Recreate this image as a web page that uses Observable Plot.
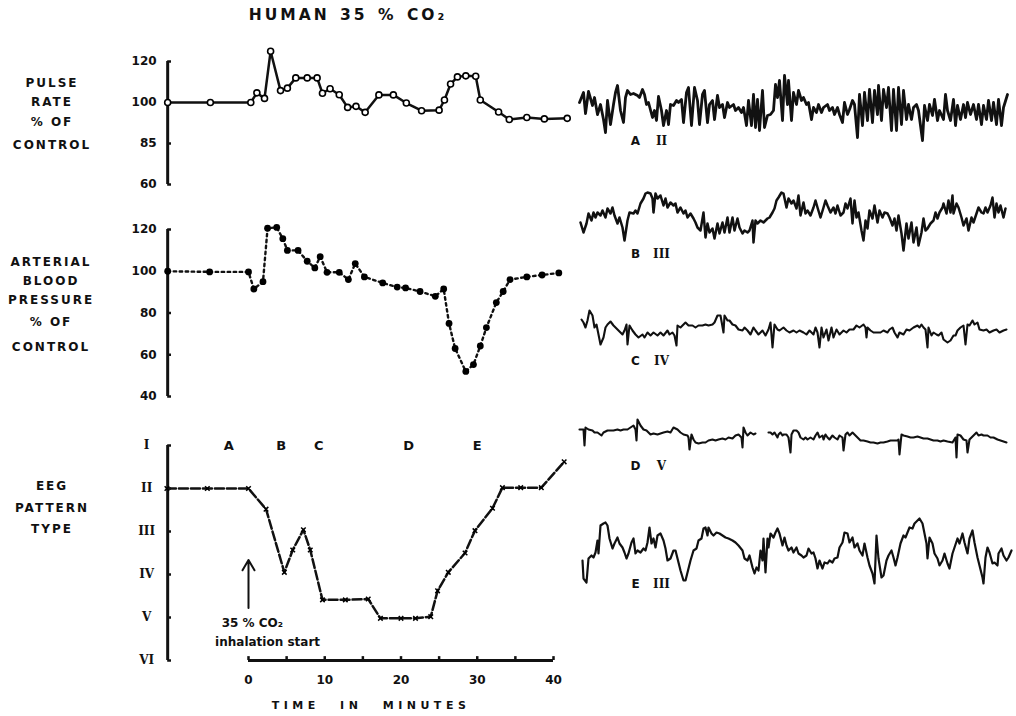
<!DOCTYPE html>
<html><head><meta charset="utf-8">
<script src="https://cdn.jsdelivr.net/npm/d3@7"></script>
<script src="https://cdn.jsdelivr.net/npm/@observablehq/plot@0.6"></script>
<style>
body{margin:0;background:#fff;}
#fig{position:relative;width:1016px;height:716px;overflow:hidden;background:#fff;font-family:"DejaVu Sans",sans-serif;color:#111;}
#fig svg{position:absolute;left:0;top:0;background:transparent!important;overflow:visible;}
.lbl{position:absolute;font-weight:bold;white-space:nowrap;transform:translate(-50%,-50%);}
</style></head><body><div id="fig"></div>
<script>
// ---------------- DATA ----------------
const pulseTime  = [-10.6, -5.0, 0.3, 1.1, 2.1, 2.9, 4.2, 5.1, 6.2, 7.7, 9.0, 9.7, 10.7, 11.9, 13.0, 14.1, 15.3, 17.1, 19.0, 20.7, 22.7, 25.0, 25.7, 26.5, 27.4, 28.5, 29.8, 30.4, 32.8, 34.2, 36.5, 38.8, 41.8];
const pulseValue = [100, 100, 100, 104.7, 102, 125, 105.8, 107, 112, 112, 112, 104.5, 106.7, 103.8, 98.2, 98.6, 96.4, 103.7, 103.7, 99.8, 97, 97.2, 101.2, 109, 112.5, 113, 112.8, 101.2, 96.5, 93.8, 94.5, 94, 94.2];
const pulseTicks = [120, 100, 85, 60];

const bpTime  = [-10.6, -5.1, 0, 0.7, 1.9, 2.5, 3.7, 4.5, 5.1, 6.5, 7.7, 8.7, 9.4, 10.3, 11.9, 13.1, 14.0, 15.2, 17.6, 19.5, 20.6, 22.5, 24.5, 25.6, 26.3, 27.1, 28.5, 29.5, 30.4, 31.2, 32.5, 33.4, 34.3, 36.5, 38.5, 40.7];
const bpValue = [100, 99.7, 99.7, 91.5, 95, 120.6, 121, 115.6, 110, 110, 104.8, 101.6, 107, 99.5, 99.5, 96, 103.7, 97.3, 94.4, 92.4, 92, 90.3, 88, 91.5, 75, 63, 52, 55.3, 64.2, 73, 85, 90.3, 96, 97.3, 98.2, 99.2];
const bpTicks = [120, 100, 80, 60, 40];

const eegTime  = [-10.7, -5.4, 0, 2.3, 4.7, 5.8, 7.2, 8.1, 9.7, 12.7, 15.7, 17.3, 20.0, 21.9, 23.9, 24.8, 26.2, 28.4, 29.7, 32.0, 33.3, 35.7, 38.4, 41.4];
const eegLevel = [2, 2, 2, 2.48, 3.95, 3.43, 2.96, 3.43, 4.59, 4.59, 4.57, 5.02, 5.02, 5.02, 4.98, 4.38, 3.95, 3.5, 2.98, 2.46, 1.98, 1.98, 1.98, 1.38];
const eegLevels = [1, 2, 3, 4, 5, 6];
const eegLevelNames = ["I", "II", "III", "IV", "V", "VI"];

const timeTicks = [0, 5, 10, 15, 20, 25, 30, 35, 40];
const timeLabels = [0, 10, 20, 30, 40];
const phaseNames = ["A", "B", "C", "D", "E"];
const phaseTimes = [-2.6, 4.3, 9.2, 21.0, 30.0];
const inhalationStart = 0;

// EEG sample traces: flat [time, amplitude, time, amplitude, ...]
const traceA = [9,5, 13,15, 15,-6, 18,16, 22,2, 24,10, 27,-7, 30,3, 33,-12, 35,-25, 37,7, 40,-17, 43,3, 45,15, 47,22, 50,-3, 53,-15, 55,10, 57,17, 60,13, 63,14, 67,12, 69,10, 72,18, 74,13, 76,3, 78,5, 82,-10, 84,-3, 86,-13, 88,11, 91,-3, 93,-18, 96,-3, 98,-17, 100,3, 103,2, 106,7, 108,5, 111,8, 113,-15, 116,15, 118,20, 121,-18, 124,20, 127,7, 129,-17, 132,13, 134,17, 137,-15, 139,3, 142,7, 144,-12, 147,12, 149,0, 152,3, 154,-10, 157,5, 159,0, 163,3, 165,-3, 168,0, 171,-5, 173,0, 176,-18, 178,7, 181,-18, 183,13, 185,-20, 187,8, 189,-23, 192,17, 194,-20, 197,-8, 200,-7, 203,-3, 205,23, 207,10, 209,27, 212,-13, 214,32, 217,3, 218,27, 221,-13, 223,15, 226,3, 228,17, 231,7, 233,10, 236,3, 238,5, 241,-12, 243,0, 246,-5, 248,3, 251,-5, 253,0, 257,3, 259,-3, 262,0, 264,-7, 267,0, 269,-7, 272,-15, 274,5, 277,-7, 279,-2, 282,7, 284,3, 287,-30, 289,13, 292,-18, 294,15, 297,-13, 299,18, 302,-15, 304,17, 307,-7, 308,22, 311,-13, 313,18, 316,0, 318,20, 321,-23, 323,18, 326,-23, 328,20, 331,-17, 333,17, 336,-12, 338,3, 341,-12, 343,0, 346,3, 348,-3, 352,-33, 354,2, 357,-13, 359,3, 362,-8, 364,8, 367,-13, 369,-3, 373,-12, 375,13, 377,-3, 380,-13, 383,8, 385,-18, 387,2, 390,-12, 393,3, 395,-10, 397,5, 400,-7, 403,3, 406,-12, 408,3, 411,-17, 413,2, 416,-12, 418,7, 421,-13, 423,5, 426,-17, 428,8, 431,-18, 433,0, 437,13];
const traceB = [10,-2, 13,-12, 16,-3, 18,7, 21,0, 23,8, 25,3, 27,8, 30,5, 32,10, 35,3, 37,12, 40,7, 42,13, 44,5, 47,-3, 49,3, 52,-7, 54,-20, 57,0, 59,8, 63,7, 65,10, 67,7, 70,17, 73,22, 75,27, 77,28, 80,27, 82,22, 83,8, 85,27, 87,22, 90,25, 93,15, 95,22, 97,13, 100,18, 103,15, 105,17, 107,8, 110,13, 113,7, 115,10, 117,3, 120,7, 123,2, 125,-2, 127,-7, 130,-10, 133,8, 135,-17, 137,-3, 139,-12, 142,-8, 144,-18, 147,-3, 149,-13, 152,-2, 154,-12, 157,3, 159,-12, 162,3, 164,-10, 167,2, 169,-7, 172,-13, 174,-10, 177,-12, 179,-10, 182,0, 183,-22, 185,0, 187,-3, 190,0, 193,-2, 197,2, 199,3, 202,8, 204,12, 206,20, 208,23, 211,28, 213,27, 216,13, 218,22, 221,17, 223,20, 226,12, 228,25, 230,5, 233,18, 235,7, 237,10, 240,5, 243,13, 245,20, 247,13, 250,3, 253,13, 255,20, 257,15, 260,8, 263,13, 265,7, 267,15, 270,5, 273,8, 275,17, 277,12, 280,22, 282,-3, 284,20, 286,3, 288,8, 291,-10, 293,-20, 295,0, 297,-8, 299,10, 302,2, 304,15, 307,-2, 309,10, 312,3, 314,8, 317,7, 319,3, 322,-5, 324,2, 326,-10, 328,5, 331,-13, 333,-30, 336,-3, 338,-18, 341,-2, 343,-22, 346,-7, 348,-25, 351,-12, 353,2, 355,-10, 357,-8, 360,-3, 363,0, 365,8, 367,2, 369,8, 372,13, 373,17, 376,7, 378,20, 380,8, 382,25, 383,7, 386,17, 388,13, 391,3, 393,-5, 396,2, 398,-10, 401,3, 403,-2, 406,7, 408,13, 411,8, 413,7, 415,13, 417,8, 420,15, 422,23, 424,3, 426,17, 428,8, 430,15, 433,3, 435,12];
const traceC = [11,8, 13,5, 15,0, 17,7, 19,17, 22,12, 24,0, 26,3, 28,-7, 30,-17, 33,-10, 35,0, 37,3, 40,6, 43,2, 45,0, 48,-3, 52,-7, 54,-3, 56,3, 57,-17, 59,2, 62,-3, 65,-7, 68,-10, 72,-7, 74,-10, 77,-5, 80,-8, 83,-5, 87,-8, 90,-5, 93,-8, 97,-3, 99,-7, 102,-5, 104,-8, 106,-18, 107,2, 110,0, 113,3, 115,5, 118,2, 122,2, 125,0, 128,2, 132,2, 135,3, 138,2, 142,3, 144,5, 147,12, 150,12, 153,-5, 154,12, 157,7, 159,7, 162,3, 165,2, 168,-2, 172,-3, 174,0, 177,-3, 180,-7, 183,0, 185,-3, 188,-7, 192,-3, 195,-8, 198,-2, 200,5, 202,-20, 204,3, 207,-2, 209,-3, 213,0, 216,-3, 219,-5, 223,-3, 226,-5, 229,-3, 233,-5, 236,-7, 239,-3, 243,-7, 245,0, 247,-5, 249,-20, 251,0, 253,-10, 256,-2, 258,-13, 261,0, 263,-10, 266,-2, 269,-7, 273,-3, 276,-5, 279,-2, 283,-2, 286,2, 289,0, 293,3, 295,0, 296,-10, 297,0, 300,-3, 303,-5, 307,-5, 310,-5, 313,-3, 317,-5, 319,-2, 322,0, 324,-5, 327,-10, 329,-5, 333,-7, 336,-2, 339,-3, 343,0, 347,2, 349,0, 351,3, 353,0, 355,-2, 357,-20, 358,0, 361,-8, 363,-5, 366,-7, 368,-8, 371,-5, 373,-12, 377,-15, 380,-13, 383,-8, 385,-8, 387,-3, 390,0, 393,2, 395,-17, 397,3, 399,2, 402,7, 404,3, 407,5, 409,-2, 413,-3, 416,-2, 419,-5, 423,-3, 426,-2, 429,-5, 433,-3, 436,-2];
const traceD1 = [9,3, 13,3, 14,-13, 15,5, 18,3, 22,2, 24,0, 27,0, 31,-3, 33,0, 37,2, 40,2, 43,2, 47,3, 50,2, 53,3, 57,3, 60,5, 63,7, 65,3, 66,-8, 67,13, 70,7, 73,3, 76,2, 80,-2, 83,-1, 87,-2, 90,-1, 93,0, 97,1, 100,0, 103,5, 107,3, 110,0, 113,-2, 117,-3, 118,-5, 119,-17, 121,-2, 123,-7, 125,-10, 128,-11, 132,-10, 135,-10, 138,-8, 142,-7, 145,-8, 148,-7, 152,-6, 155,-7, 158,-5, 162,-6, 165,-3, 168,-2, 171,-5, 172,-15, 173,5, 175,0, 177,-3, 180,0, 183,-2, 185,-1];
const traceD2 = [198,0, 200,0, 202,-2, 204,0, 207,-5, 208,-2, 210,0, 212,-3, 213,-2, 216,-2, 218,-5, 220,-20, 221,-2, 223,2, 226,2, 228,0, 230,-5, 233,-7, 235,-5, 237,-7, 240,-5, 243,-7, 245,-3, 247,0, 249,-5, 252,-3, 253,-7, 255,-2, 257,-5, 259,-7, 262,-3, 264,-5, 267,-7, 269,-3, 272,-5, 273,-18, 275,-2, 277,0, 279,-3, 282,0, 284,-2, 287,-5, 290,-8, 293,-8, 297,-9, 300,-10, 303,-10, 307,-11, 310,-10, 313,-10, 317,-9, 320,-8, 323,-8, 327,-8, 328,-7, 329,-22, 331,-2, 333,-3, 337,-4, 340,-5, 343,-5, 347,-4, 350,-5, 353,-6, 357,-6, 360,-7, 363,-8, 367,-8, 370,-9, 373,-8, 377,-9, 382,-10, 385,-5, 386,-25, 387,-2, 390,-3, 393,-7, 396,-8, 397,-20, 399,-7, 401,-5, 403,-3, 406,0, 408,-3, 411,-2, 413,-3, 417,-3, 420,-5, 423,-5, 427,-7, 430,-8, 433,-9, 436,-10];
const traceE = [12,-10, 13,-28, 16,-32, 18,-8, 21,-5, 23,-7, 25,-2, 27,10, 28,-3, 30,25, 33,27, 35,28, 37,25, 39,12, 42,2, 44,7, 47,13, 49,7, 52,3, 54,-2, 56,-8, 58,-3, 61,8, 63,12, 65,-3, 67,0, 70,-2, 73,2, 75,0, 77,8, 79,23, 81,7, 83,12, 85,3, 87,15, 90,17, 93,10, 95,2, 97,-10, 100,-8, 103,0, 105,0, 107,-8, 110,-20, 113,-30, 115,-30, 117,-22, 120,-10, 123,0, 126,2, 128,10, 131,12, 133,22, 135,23, 137,15, 138,23, 141,17, 143,15, 146,18, 149,17, 152,15, 155,13, 158,12, 162,10, 165,8, 168,5, 172,0, 174,-8, 177,-10, 179,-5, 182,-17, 184,-23, 186,-17, 188,-20, 190,0, 192,-10, 193,12, 195,-22, 197,12, 198,3, 200,17, 203,13, 205,18, 207,22, 209,17, 212,5, 214,13, 216,5, 218,0, 221,3, 223,-2, 226,3, 228,-3, 231,-5, 233,-7, 236,-5, 238,2, 241,-3, 243,-2, 245,-8, 247,-18, 249,-10, 252,-18, 254,-12, 257,-13, 259,-10, 262,-12, 264,-8, 267,-7, 269,3, 272,8, 274,18, 277,17, 279,8, 282,13, 284,3, 287,7, 289,0, 292,-5, 294,7, 297,-7, 299,-15, 302,-23, 304,-33, 306,15, 308,-8, 311,-27, 313,-25, 316,-10, 318,-5, 321,0, 323,-7, 325,-15, 327,-7, 330,7, 333,15, 335,13, 337,18, 339,23, 342,22, 344,27, 347,30, 349,32, 352,27, 354,17, 356,7, 357,-8, 359,13, 362,7, 364,-3, 367,-8, 369,-15, 372,-10, 374,-3, 377,-13, 379,-18, 382,-3, 384,3, 387,12, 389,7, 392,17, 394,8, 397,-3, 399,12, 402,20, 404,8, 407,-7, 409,-15, 412,-27, 413,-33, 415,-7, 417,3, 419,-2, 422,-13, 424,-12, 427,-15, 428,-3, 431,2, 433,-5, 436,-10, 438,-7, 441,0];
const traceLetters  = ["A", "B", "C", "D", "E"];
const tracePatterns = ["II", "III", "IV", "V", "III"];

// ---------------- LAYOUT ----------------
const W = 1016, H = 716;
const fig = document.getElementById("fig");
const SANS = "DejaVu Sans, sans-serif";
const SERIF = "DejaVu Serif, serif";
const axisStart = -10.6;
const xTime = {domain: [0, 40], range: [248, 553], axis: null};

function add(p){ fig.appendChild(p); }
function plot(opts){
  return Plot.plot({width: W, height: H, margin: 0,
    style: {background: "transparent", overflow: "visible"}, ...opts});
}
function label(text, cx, cy, opts = {}){
  const d = document.createElement("div");
  d.className = "lbl";
  d.textContent = text;
  d.style.left = cx + "px"; d.style.top = cy + "px";
  d.style.fontSize = (opts.size || 12) + "px";
  d.style.letterSpacing = (opts.ls ?? 2) + "px";
  if (opts.ws != null) d.style.wordSpacing = opts.ws + "px";
  if (opts.family) d.style.fontFamily = opts.family;
  if (opts.weight) d.style.fontWeight = opts.weight;
  fig.appendChild(d);
}

const pulse = pulseTime.map((t, i) => ({t, v: pulseValue[i]}));
const bp = bpTime.map((t, i) => ({t, v: bpValue[i]}));
const eeg = eegTime.map((t, i) => ({t, v: eegLevel[i]}));

// the pulse axis places its ticks 120, 100, 85, 60 at equal intervals
const pulseStep = d3.scaleLinear().domain([60, 85, 100, 120]).range([0, 1, 2, 3]);

// Pulse panel
add(plot({
  x: xTime,
  y: {domain: [0, 3], range: [184, 61], transform: pulseStep, axis: null},
  marks: [
    Plot.ruleX([axisStart], {y1: 60, y2: 120, strokeWidth: 3}),
    Plot.ruleY(pulseTicks, {x1: axisStart, x2: axisStart + 0.5, strokeWidth: 2.5}),
    Plot.text(pulseTicks, {x: axisStart, y: d => d, text: d => String(d), dx: -11, textAnchor: "end", fontWeight: "bold", fontSize: 12, fontFamily: SANS}),
    Plot.line(pulse, {x: "t", y: "v", strokeWidth: 2.5, strokeLinejoin: "round"}),
    Plot.dot(pulse, {x: "t", y: "v", r: 3, fill: "white", stroke: "black", strokeWidth: 1.6})
  ]
}));

// Blood pressure panel
add(plot({
  x: xTime,
  y: {domain: [40, 120], range: [396, 229], axis: null},
  marks: [
    Plot.ruleX([axisStart], {y1: 40, y2: 120, strokeWidth: 3}),
    Plot.ruleY(bpTicks, {x1: axisStart, x2: axisStart + 0.5, strokeWidth: 2.5}),
    Plot.text(bpTicks, {x: axisStart, y: d => d, text: d => String(d), dx: -11, textAnchor: "end", fontWeight: "bold", fontSize: 12, fontFamily: SANS}),
    Plot.line(bp, {x: "t", y: "v", strokeWidth: 2.4, strokeDasharray: "2.5,3.5", strokeLinecap: "round"}),
    Plot.dot(bp, {x: "t", y: "v", r: 3.4, fill: "black"})
  ]
}));

// EEG pattern panel
add(plot({
  x: xTime,
  y: {domain: [1, 6], range: [445, 660], axis: null},
  marks: [
    Plot.ruleX([axisStart], {y1: 1, y2: 6, strokeWidth: 3}),
    Plot.ruleY(eegLevels, {x1: axisStart, x2: axisStart + 0.5, strokeWidth: 2.5}),
    Plot.text(eegLevels, {x: axisStart, y: d => d, text: (d, i) => eegLevelNames[i], dx: -21, textAnchor: "middle", fontWeight: "bold", fontSize: 12, fontFamily: SERIF}),
    Plot.ruleY([6], {x1: 0, x2: 40, strokeWidth: 3}),
    Plot.ruleX(timeTicks, {y1: 6, y2: 5.91, strokeWidth: 2.5}),
    Plot.text(timeLabels, {x: d => d, y: 6, text: d => String(d), dy: 20, fontWeight: "bold", fontSize: 12, fontFamily: SANS}),
    Plot.line(eeg, {x: "t", y: "v", strokeWidth: 2.5, strokeDasharray: "9,3"}),
    Plot.dot(eeg, {x: "t", y: "v", symbol: "times", r: 2.2, stroke: "black", strokeWidth: 1.5}),
    Plot.text(phaseNames, {x: (d, i) => phaseTimes[i], y: 1, text: d => d, fontWeight: "bold", fontSize: 13, fontFamily: SANS}),
    Plot.arrow([inhalationStart], {x1: d => d, x2: d => d, y1: 4.78, y2: 3.66, strokeWidth: 2, headLength: 9}),
    Plot.text([inhalationStart], {x: d => d + 0.5, y: 5.13, text: () => "35 % CO₂", fontSize: 12, fontWeight: "bold", fontFamily: SANS, letterSpacing: 1}),
    Plot.text([inhalationStart], {x: d => d + 2.5, y: 5.58, text: () => "inhalation start", fontSize: 12, fontWeight: "bold", fontFamily: SANS, letterSpacing: 0.6})
  ]
}));

// EEG sample traces
function pairs(flat){ const out = []; for (let i = 0; i < flat.length; i += 2) out.push({t: flat[i], a: flat[i + 1]}); return out; }
const traceSets = [
  {series: [traceA], base: 107, sw: 2.8},
  {series: [traceB], base: 220, sw: 2.5},
  {series: [traceC], base: 327, sw: 2.1},
  {series: [traceD1, traceD2], base: 432, sw: 2.1},
  {series: [traceE], base: 550, sw: 2.2}
];
traceSets.forEach((s, k) => {
  add(plot({
    x: {domain: [0, 446], range: [570, 1016], axis: null},
    y: {domain: [-50, 50], range: [s.base + 50, s.base - 50], axis: null},
    marks: [
      ...s.series.map(f => Plot.line(pairs(f), {x: "t", y: "a", strokeWidth: s.sw, strokeLinejoin: "round"})),
      Plot.text([traceLetters[k]], {x: 65, y: -34, text: d => d, fontWeight: "bold", fontSize: 12, fontFamily: SANS}),
      Plot.text([tracePatterns[k]], {x: 91, y: -34, text: d => d, fontWeight: "bold", fontSize: 12, fontFamily: SERIF})
    ]
  }));
});

// Titles and side labels
label("HUMAN  35 % CO₂", 348, 15, {size: 15.5, ls: 3, ws: 2});
[["PULSE", 83], ["RATE", 102], ["% OF", 122], ["CONTROL", 145]].forEach(([t, y]) => label(t, 52, y));
[["ARTERIAL", 262], ["BLOOD", 281], ["PRESSURE", 300], ["% OF", 322], ["CONTROL", 347]].forEach(([t, y]) => label(t, 51, y));
[["EEG", 486], ["PATTERN", 508], ["TYPE", 529]].forEach(([t, y]) => label(t, 52, y));
label("TIME IN MINUTES", 371, 705, {size: 11, ls: 4.5, ws: 12});
</script></body></html>
